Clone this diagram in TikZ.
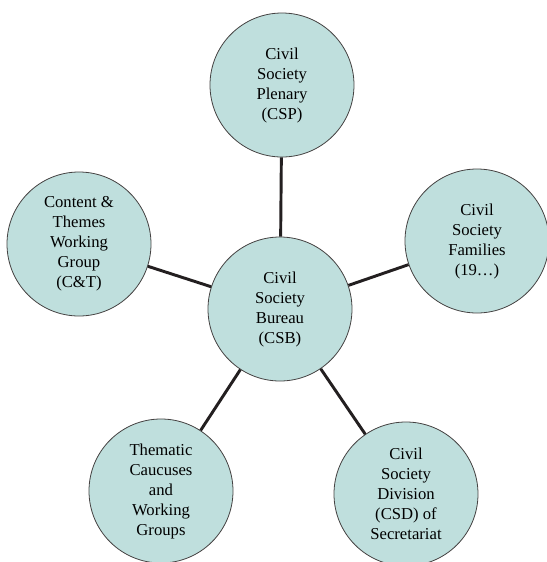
\documentclass[tikz,border=0pt]{standalone}
\usepackage{fontspec}
\setmainfont{Liberation Serif}
\definecolor{bubble}{HTML}{BFDFDD}
\definecolor{ink}{HTML}{231F20}

\begin{document}
\begin{tikzpicture}[x=0.75pt,y=-0.75pt,
    org/.style={circle,draw=ink!85,line width=0.6pt,fill=bubble,minimum size=108pt,
        inner sep=0pt,align=center,font=\fontsize{12.5}{15}\selectfont},
    link/.style={draw=ink,line width=2.2pt}]

    \useasboundingbox (0,0) rectangle (547,562);

    \node[org] (CSB) at (280,309) {Civil\\Society\\Bureau\\(CSB)};
    \node[org] (CSP) at (282,85) {Civil\\Society\\Plenary\\(CSP)};
    \node[org] (CT) at (79,244) {Content \&\\Themes\\Working\\Group\\(C\&T)};
    \node[org] (CSF) at (477,241) {Civil\\Society\\Families\\(19\ldots)};
    \node[org] (TCW) at (161,491) {Thematic\\Caucuses\\and\\Working\\Groups};
    \node[org] (CSD) at (406,494) {Civil\\Society\\Division\\(CSD) of\\Secretariat};
    \draw[link] (CSP) -- (CSB);
    \draw[link] (CT) -- (CSB);
    \draw[link] (CSB) -- (CSF);
    \draw[link] (CSB) -- (TCW);
    \draw[link] (CSB) -- (CSD);
        \end{tikzpicture}
\end{document}
